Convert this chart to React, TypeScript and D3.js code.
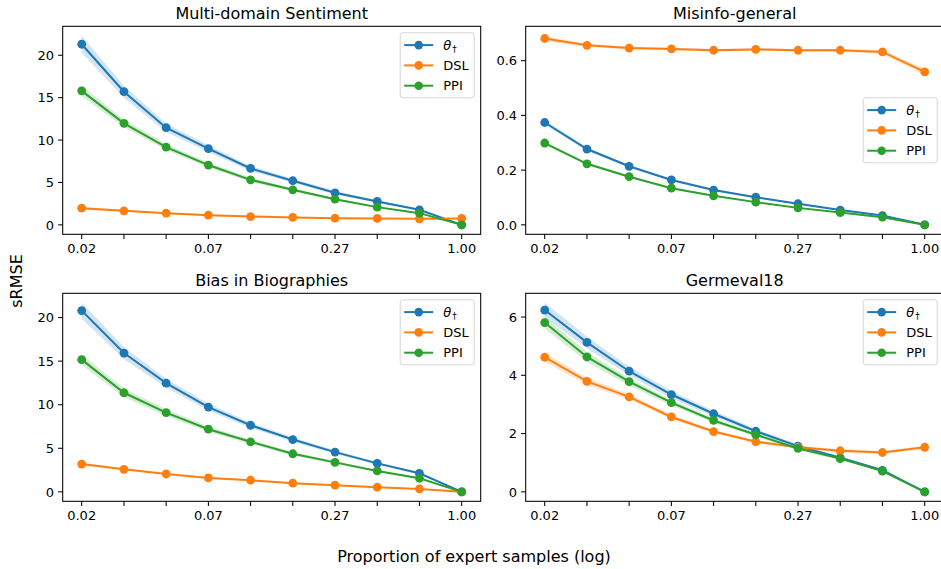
import React, { useRef, useEffect } from 'react';
import * as d3 from 'd3';

// proportion of expert samples (log-spaced)
const xValues = [0.02, 0.0309, 0.0477, 0.0737, 0.1138, 0.1757, 0.2714, 0.4191, 0.6472, 1.0];
const xTickLabels = ['0.02', '', '', '0.07', '', '', '0.27', '', '', '1.00'];

const seriesNames = ['theta', 'DSL', 'PPI'];
const seriesColors = ['#1f77b4', '#ff7f0e', '#2ca02c'];

// Multi-domain Sentiment
const sentimentTheta = [21.3, 15.7, 11.46, 8.98, 6.65, 5.2, 3.78, 2.76, 1.77, 0.0];
const sentimentThetaStd = [1.0, 0.7, 0.5, 0.4, 0.3, 0.25, 0.2, 0.15, 0.1, 0.0];
const sentimentDSL = [1.97, 1.65, 1.38, 1.14, 0.98, 0.87, 0.79, 0.75, 0.71, 0.75];
const sentimentDSLStd = [0.15, 0.12, 0.1, 0.1, 0.08, 0.08, 0.07, 0.07, 0.06, 0.06];
const sentimentPPI = [15.8, 11.97, 9.17, 7.05, 5.31, 4.13, 3.03, 2.09, 1.38, 0.0];
const sentimentPPIStd = [0.6, 0.45, 0.35, 0.3, 0.25, 0.2, 0.15, 0.1, 0.08, 0.0];

// Misinfo-general
const misinfoTheta = [0.374, 0.277, 0.214, 0.164, 0.127, 0.101, 0.077, 0.054, 0.034, 0.0];
const misinfoThetaStd = [0.008, 0.006, 0.005, 0.004, 0.004, 0.003, 0.003, 0.002, 0.002, 0.0];
const misinfoDSL = [0.681, 0.656, 0.646, 0.643, 0.638, 0.641, 0.638, 0.638, 0.632, 0.559];
const misinfoDSLStd = [0.01, 0.006, 0.005, 0.005, 0.005, 0.005, 0.005, 0.005, 0.007, 0.012];
const misinfoPPI = [0.299, 0.223, 0.176, 0.134, 0.106, 0.083, 0.062, 0.045, 0.028, 0.0];
const misinfoPPIStd = [0.006, 0.005, 0.004, 0.003, 0.003, 0.002, 0.002, 0.002, 0.001, 0.0];

// Bias in Biographies
const biosTheta = [20.8, 15.93, 12.47, 9.73, 7.64, 6.0, 4.56, 3.27, 2.13, 0.0];
const biosThetaStd = [0.9, 0.7, 0.5, 0.4, 0.3, 0.25, 0.2, 0.15, 0.1, 0.0];
const biosDSL = [3.19, 2.59, 2.05, 1.6, 1.33, 0.99, 0.76, 0.53, 0.34, 0.0];
const biosDSLStd = [0.15, 0.13, 0.1, 0.09, 0.08, 0.07, 0.06, 0.05, 0.04, 0.0];
const biosPPI = [15.17, 11.37, 9.09, 7.19, 5.74, 4.37, 3.38, 2.4, 1.56, 0.0];
const biosPPIStd = [0.6, 0.5, 0.4, 0.3, 0.25, 0.2, 0.15, 0.1, 0.08, 0.0];

// Germeval18
const germevalTheta = [6.24, 5.13, 4.14, 3.34, 2.68, 2.08, 1.57, 1.17, 0.74, 0.0];
const germevalThetaStd = [0.25, 0.2, 0.15, 0.13, 0.1, 0.08, 0.06, 0.05, 0.04, 0.0];
const germevalDSL = [4.62, 3.79, 3.26, 2.57, 2.07, 1.72, 1.53, 1.41, 1.35, 1.53];
const germevalDSLStd = [0.15, 0.13, 0.1, 0.08, 0.06, 0.05, 0.05, 0.05, 0.05, 0.05];
const germevalPPI = [5.81, 4.63, 3.78, 3.06, 2.45, 1.96, 1.49, 1.14, 0.71, 0.0];
const germevalPPIStd = [0.2, 0.17, 0.13, 0.1, 0.08, 0.06, 0.05, 0.04, 0.03, 0.0];

const panelTitles = ['Multi-domain Sentiment', 'Misinfo-general', 'Bias in Biographies', 'Germeval18'];
const panelYTicks = [
    [0, 5, 10, 15, 20],
    [0.0, 0.2, 0.4, 0.6],
    [0, 5, 10, 15, 20],
    [0, 2, 4, 6],
];
const panelYFormats = ['d', '.1f', 'd', 'd'];
const panelLegendLoc = ['upper right', 'center right', 'upper right', 'upper right'];

const panelMeans = [
    [sentimentTheta, sentimentDSL, sentimentPPI],
    [misinfoTheta, misinfoDSL, misinfoPPI],
    [biosTheta, biosDSL, biosPPI],
    [germevalTheta, germevalDSL, germevalPPI],
];
const panelStds = [
    [sentimentThetaStd, sentimentDSLStd, sentimentPPIStd],
    [misinfoThetaStd, misinfoDSLStd, misinfoPPIStd],
    [biosThetaStd, biosDSLStd, biosPPIStd],
    [germevalThetaStd, germevalDSLStd, germevalPPIStd],
];

const WIDTH = 941;
const HEIGHT = 569;
const FONT = '"DejaVu Sans", sans-serif';

const App: React.FC = () => {
    const ref = useRef<SVGSVGElement | null>(null);

    useEffect(() => {
        document.body.style.margin = '0';
        const svg = d3.select(ref.current);
        svg.selectAll('*').remove();

        const colLefts = [62.7, 525.7];
        const rowTops = [26.3, 293.3];
        const axW = 418;
        const axH = 208;

        panelTitles.forEach((title, p) => {
            const left = colLefts[p % 2];
            const top = rowTops[Math.floor(p / 2)];
            const right = left + axW;
            const bottom = top + axH;

            // log x with 5% margins like matplotlib
            const lo = Math.log10(d3.min(xValues) as number);
            const hi = Math.log10(d3.max(xValues) as number);
            const xpad = 0.05 * (hi - lo);
            const x = d3.scaleLog()
                .domain([Math.pow(10, lo - xpad), Math.pow(10, hi + xpad)])
                .range([left, right]);

            const means = panelMeans[p];
            const stds = panelStds[p];
            let ymin = Infinity;
            let ymax = -Infinity;
            means.forEach((m, s) => m.forEach((v, i) => {
                ymin = Math.min(ymin, v - stds[s][i]);
                ymax = Math.max(ymax, v + stds[s][i]);
            }));
            const ypad = 0.05 * (ymax - ymin);
            const y = d3.scaleLinear()
                .domain([ymin - ypad, ymax + ypad])
                .range([bottom, top]);

            const g = svg.append('g');

            const line = d3.line<number>()
                .x((_, i) => x(xValues[i]))
                .y((d) => y(d));

            means.forEach((m, s) => {
                const sd = stds[s];
                const band = d3.area<number>()
                    .x((_, i) => x(xValues[i]))
                    .y0((d, i) => y(d - sd[i]))
                    .y1((d, i) => y(d + sd[i]));
                g.append('path')
                    .attr('d', band(m))
                    .attr('fill', seriesColors[s])
                    .attr('fill-opacity', 0.2)
                    .attr('stroke', 'none');
                g.append('path')
                    .attr('d', line(m))
                    .attr('fill', 'none')
                    .attr('stroke', seriesColors[s])
                    .attr('stroke-width', 2);
                g.selectAll(null)
                    .data(m)
                    .enter()
                    .append('circle')
                    .attr('cx', (_, i) => x(xValues[i]))
                    .attr('cy', (d) => y(d))
                    .attr('r', 4.4)
                    .attr('fill', seriesColors[s]);
            });

            // spines
            g.append('rect')
                .attr('x', left)
                .attr('y', top)
                .attr('width', axW)
                .attr('height', axH)
                .attr('fill', 'none')
                .attr('stroke', '#000')
                .attr('stroke-width', 1.05);

            // x ticks
            xValues.forEach((v, i) => {
                const tx = x(v);
                g.append('line')
                    .attr('x1', tx).attr('x2', tx)
                    .attr('y1', bottom).attr('y2', bottom + 4.6)
                    .attr('stroke', '#000').attr('stroke-width', 1.05);
                if (xTickLabels[i]) {
                    g.append('text')
                        .attr('x', tx)
                        .attr('y', bottom + 19)
                        .attr('text-anchor', 'middle')
                        .style('font-family', FONT)
                        .style('font-size', '13px')
                        .text(xTickLabels[i]);
                }
            });

            // y ticks
            const fmt = d3.format(panelYFormats[p]);
            panelYTicks[p].forEach((v) => {
                const ty = y(v);
                g.append('line')
                    .attr('x1', left - 4.6).attr('x2', left)
                    .attr('y1', ty).attr('y2', ty)
                    .attr('stroke', '#000').attr('stroke-width', 1.05);
                g.append('text')
                    .attr('x', left - 8.6)
                    .attr('y', ty)
                    .attr('dy', '0.36em')
                    .attr('text-anchor', 'end')
                    .style('font-family', FONT)
                    .style('font-size', '13px')
                    .text(fmt(v));
            });

            // title
            g.append('text')
                .attr('x', (left + right) / 2)
                .attr('y', top - 7.8)
                .attr('text-anchor', 'middle')
                .style('font-family', FONT)
                .style('font-size', '16px')
                .text(title);

            // legend
            const lw = 74;
            const lh = 65;
            const lx = right - 6.5 - lw;
            const ly = panelLegendLoc[p] === 'upper right' ? top + 6.5 : (top + bottom) / 2 - lh / 2;
            const leg = g.append('g').attr('transform', `translate(${lx},${ly})`);
            leg.append('rect')
                .attr('width', lw)
                .attr('height', lh)
                .attr('rx', 2.6)
                .attr('fill', '#fff')
                .attr('fill-opacity', 0.8)
                .attr('stroke', '#d6d6d6')
                .attr('stroke-width', 1);
            seriesNames.forEach((name, s) => {
                const ry = 12.3 + s * 20.3;
                leg.append('line')
                    .attr('x1', 4).attr('x2', 33)
                    .attr('y1', ry).attr('y2', ry)
                    .attr('stroke', seriesColors[s])
                    .attr('stroke-width', 2);
                leg.append('circle')
                    .attr('cx', 18.5).attr('cy', ry)
                    .attr('r', 4.3)
                    .attr('fill', seriesColors[s]);
                const t = leg.append('text')
                    .attr('x', 43)
                    .attr('y', ry)
                    .attr('dy', '0.36em')
                    .style('font-family', FONT)
                    .style('font-size', '13px');
                if (name === 'theta') {
                    t.append('tspan').style('font-style', 'italic').text('θ');
                    t.append('tspan')
                        .attr('dy', '0.25em')
                        .attr('dx', '1')
                        .style('font-size', '9px')
                        .text('†');
                } else {
                    t.text(name);
                }
            });
        });

        // shared labels
        svg.append('text')
            .attr('x', 474)
            .attr('y', 562)
            .attr('text-anchor', 'middle')
            .style('font-family', FONT)
            .style('font-size', '16px')
            .text('Proportion of expert samples (log)');

        svg.append('text')
            .attr('transform', 'translate(16,281) rotate(-90)')
            .attr('text-anchor', 'middle')
            .attr('dy', '0.36em')
            .style('font-family', FONT)
            .style('font-size', '16px')
            .text('sRMSE');
    }, []);

    return (
        <svg ref={ref} width={WIDTH} height={HEIGHT} style={{ display: 'block', background: '#fff' }} />
    );
};

export default App;
